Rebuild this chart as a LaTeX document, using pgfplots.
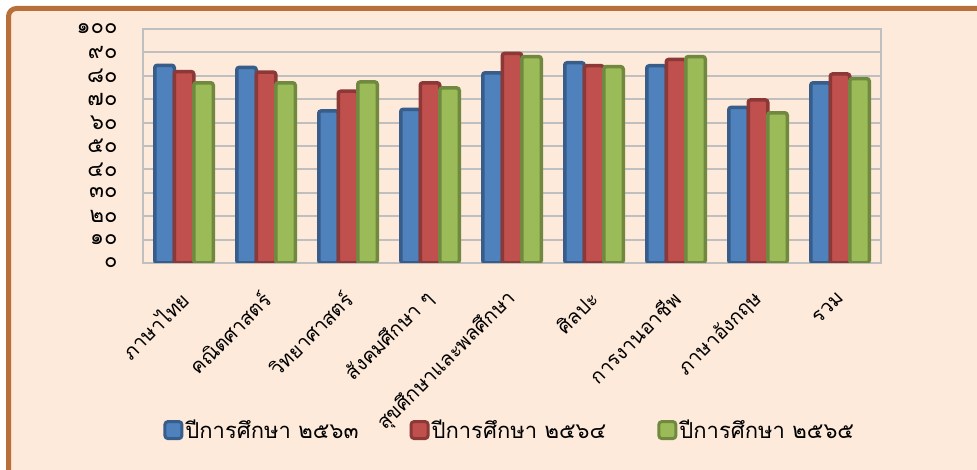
\documentclass[border=0pt]{standalone}
\usepackage{fontspec}
\setmainfont[Script=Thai]{Loma}
\usepackage{pgfplots}
\pgfplotsset{compat=1.18}
\definecolor{peach}{HTML}{FDEADA}
\definecolor{framec}{HTML}{B8703A}
\definecolor{gridc}{HTML}{BFBFBF}
\definecolor{bfill}{HTML}{4F81BD}\definecolor{bdraw}{HTML}{385D8A}
\definecolor{rfill}{HTML}{C0504D}\definecolor{rdraw}{HTML}{8C3836}
\definecolor{gfill}{HTML}{9BBB59}\definecolor{gdraw}{HTML}{71893F}
\pgfplotsset{mylegend/.style={legend image code/.code={\draw[##1, line width=3pt, rounded corners=3pt] (0pt,-8.5pt) rectangle (17pt,8.5pt);}}}
\begin{document}
\begin{tikzpicture}
\useasboundingbox (0,0) rectangle (977pt,470pt);
\fill[white] (0,0) rectangle (977pt,470pt);
\fill[peach] (8.5pt,0pt) rectangle (977pt,461.5pt);
\draw[framec, line width=5pt, rounded corners=8pt, line cap=rect] (8.5pt,-5pt) -- (8.5pt,461.5pt) -- (982pt,461.5pt);
\begin{axis}[
 at={(143pt,207pt)}, anchor=south west,
 scale only axis, width=738pt, height=234pt,
 ybar=0pt, bar width=19.5pt,
 xmin=-0.5, xmax=8.5, ymin=0, ymax=100,
 xtick={0,...,8},
 xticklabels={ภาษาไทย, คณิตศาสตร์, วิทยาศาสตร์, สังคมศึกษา ๆ, สุขศึกษาและพลศึกษา, ศิลปะ, การงานอาชีพ, ภาษาอังกฤษ, รวม},
 ytick={0,10,...,100},
 yticklabels={๐,๑๐,๒๐,๓๐,๔๐,๕๐,๖๐,๗๐,๘๐,๙๐,๑๐๐},
 major tick length=0pt,
 ymajorgrids, grid style={gridc, line width=2pt},
 axis line style={gridc, line width=2pt},
 axis background/.style={fill=peach},
 yticklabel style={font=\fontsize{22}{24}\selectfont, xshift=-22pt, anchor=east},
 xticklabel style={font=\fontsize{20}{24}\selectfont, xshift=3pt, yshift=-30pt, rotate=45, anchor=east},
 legend columns=3,
 legend style={at={(0.497,-0.714)}, anchor=center, draw=none, fill=none,
   font=\fontsize{22}{26}\selectfont,
   /tikz/every even column/.append style={column sep=49pt}},
]
\addplot[mylegend, fill=bfill, draw=bdraw, line width=3.5pt, rounded corners=2.5pt] coordinates {(0,84.5) (1,83.6) (2,65.0) (3,65.7) (4,81.3) (5,85.6) (6,84.3) (7,66.5) (8,77.0)};
\addplot[mylegend, fill=rfill, draw=rdraw, line width=3.5pt, rounded corners=2.5pt] coordinates {(0,81.8) (1,81.6) (2,73.4) (3,77.0) (4,89.6) (5,84.3) (6,87.0) (7,69.7) (8,80.8)};
\addplot[mylegend, fill=gfill, draw=gdraw, line width=3.5pt, rounded corners=2.5pt] coordinates {(0,77.0) (1,77.0) (2,77.4) (3,74.8) (4,88.2) (5,83.9) (6,88.2) (7,64.2) (8,78.8)};
\legend{ปีการศึกษา ๒๕๖๓, ปีการศึกษา ๒๕๖๔, ปีการศึกษา ๒๕๖๕}
\end{axis}
\end{tikzpicture}
\end{document}
